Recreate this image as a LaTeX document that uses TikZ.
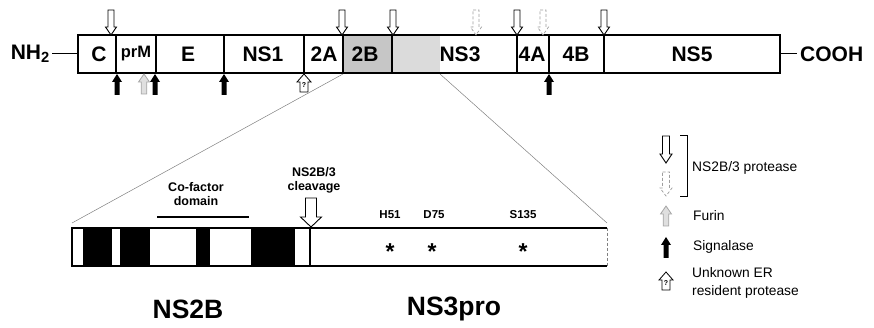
\documentclass[tikz,border=0pt]{standalone}
\usepackage{fontspec}
\setmainfont{Liberation Sans}
\begin{document}
\begin{tikzpicture}[x=1pt,y=-1pt,line join=miter]
\useasboundingbox (0,0) rectangle (874,328);
\tikzset{
  barline/.style={line width=1.1pt},
  lbl/.style={font=\bfseries\fontsize{21}{21}\selectfont, inner sep=0pt, anchor=center},
  endlbl/.style={font=\bfseries\fontsize{21}{21}\selectfont, inner sep=0pt},
  biglbl/.style={font=\bfseries\fontsize{26.5}{26.5}\selectfont, inner sep=0pt},
  smlbl/.style={font=\bfseries\fontsize{12.5}{14}\selectfont, inner sep=0pt, align=center},
  reslbl/.style={font=\bfseries\fontsize{11.5}{12}\selectfont, inner sep=0pt},
  starlbl/.style={font=\bfseries\fontsize{23}{23}\selectfont, inner sep=0pt},
  leglbl/.style={font=\fontsize{13.8}{17.5}\selectfont, inner sep=0pt, anchor=west, align=left},
  zoomline/.style={gray, line width=0.5pt},
  protdown/.pic={\draw[line width=0.9pt, fill=white] (-3,-25) -- (3,-25) -- (3,-8) -- (5.5,-8) -- (0,0) -- (-5.5,-8) -- (-3,-8) -- cycle;},
  protdash/.pic={\draw[line width=0.7pt, densely dashed, draw=gray!75, fill=white] (-3,-25) -- (3,-25) -- (3,-8) -- (5.5,-8) -- (0,0) -- (-5.5,-8) -- (-3,-8) -- cycle;},
  sigup/.pic={\fill[black] (-2.5,21) -- (2.5,21) -- (2.5,8) -- (5,8) -- (0,0) -- (-5,8) -- (-2.5,8) -- cycle;},
  furup/.pic={\draw[line width=0.8pt, draw=gray!70, fill=gray!25] (-2.8,20) -- (2.8,20) -- (2.8,8) -- (5.5,8) -- (0,0) -- (-5.5,8) -- (-2.8,8) -- cycle;},
  unkup/.pic={\draw[line width=0.8pt, fill=white] (-4,18) -- (4,18) -- (4,8) -- (7,8) -- (0,0) -- (-7,8) -- (-4,8) -- cycle;
              \node[font=\bfseries\fontsize{7}{7}\selectfont, inner sep=0pt] at (0,11) {?};},
  legopen/.pic={\draw[line width=0.9pt, fill=white] (-3.5,-27) -- (3.5,-27) -- (3.5,-9) -- (6,-9) -- (0,0) -- (-6,-9) -- (-3.5,-9) -- cycle;},
  legdash/.pic={\draw[line width=0.7pt, densely dashed, draw=gray!75, fill=white] (-3.5,-24) -- (3.5,-24) -- (3.5,-8) -- (6,-8) -- (0,0) -- (-6,-8) -- (-3.5,-8) -- cycle;},
  cleavarr/.pic={\draw[line width=0.9pt, fill=white] (-5.5,-29) -- (5.5,-29) -- (5.5,-10) -- (10.5,-10) -- (0,0) -- (-10.5,-10) -- (-5.5,-10) -- cycle;}
}

% ---------- top polyprotein bar ----------
\fill[gray!45] (343,35) rectangle (392,73);
\fill[gray!28] (392,35) rectangle (440,73);
\draw[barline] (78,35) rectangle (780,73);
\foreach \x in {116,156,224,304,343,392,517,549,604}
  \draw[barline] (\x,35) -- (\x,73);

\node[lbl] (lC)   at (99,54)  {C};
\node[lbl, font=\bfseries\fontsize{16.5}{16.5}\selectfont] (lprM) at (136,54) {prM};
\node[lbl] (lE)   at (188,54) {E};
\node[lbl] (lNS1) at (263,54) {NS1};
\node[lbl] (l2A)  at (324,54) {2A};
\node[lbl] (l2B)  at (365,54) {2B};
\node[lbl] (lNS3) at (460,54) {NS3};
\node[lbl] (l4A)  at (532,54) {4A};
\node[lbl] (l4B)  at (576,54) {4B};
\node[lbl] (lNS5) at (692,54) {NS5};

\node[endlbl, anchor=east] (nh2) at (50,54) {NH\textsubscript{2}};
\coordinate (barL) at (78,54);
\coordinate (barR) at (780,54);
\draw[line width=1pt] (nh2.east) ++(2,0) -- (barL);
\node[endlbl, anchor=west] (cooh) at (800,54) {COOH};
\draw[line width=1pt] (barR) -- ([xshift=-3pt]cooh.west);

% arrows above
\foreach \x in {111,342,393,517,604}
  \pic at (\x,35) {protdown};
\foreach \x in {476,543}
  \pic at (\x,35) {protdash};
% arrows below
\foreach \x in {117,155,224,549}
  \pic at (\x,74) {sigup};
\pic at (144,74) {furup};
\pic at (304,74) {unkup};

% ---------- zoom lines ----------
\coordinate (zL0) at (343,74);
\coordinate (zR0) at (440,74);
\coordinate (zL1) at (72,223);
\coordinate (zR1) at (607,223);
\draw[zoomline] (zL0) -- (zL1);
\draw[zoomline] (zR0) -- (zR1);

% ---------- NS2B-NS3pro box ----------
\foreach \a/\b in {83/112,120/150,196/210,251/295}
  \fill[black] (\a,228) rectangle (\b,266);
\draw[line width=1.2pt] (607,228) -- (72,228) -- (72,266) -- (607,266);
\draw[line width=0.9pt, densely dashed, gray] (607,228) -- (607,266);
\draw[line width=1.1pt] (310,228) -- (310,266);

\draw[line width=2pt] (157,217) -- (249,217);
\node[smlbl] (cof) at (196,194) {Co-factor\\domain};
\node[smlbl] (clv) at (314,180) {NS2B/3\\cleavage};
\pic at (311,227) {cleavarr};

\node[reslbl] (h51)  at (390,215) {H51};
\node[reslbl] (d75)  at (434,215) {D75};
\node[reslbl] (s135) at (523,215) {S135};
\node[starlbl] (st1) at (390,252) {*};
\node[starlbl] (st2) at (432,252) {*};
\node[starlbl] (st3) at (523,252) {*};

\node[biglbl] (ns2b) at (188,309) {NS2B};
\node[biglbl] (ns3p) at (454,309) {NS3pro};

% ---------- legend ----------
\pic at (666,163) {legopen};
\pic at (666,196) {legdash};
\draw[line width=1pt] (680,136) -- (687,136) -- (687,197) -- (680,197);
\node[leglbl] (lgProt) at (692,168) {NS2B/3 protease};
\pic at (666,206) {furup};
\node[leglbl] (lgFur) at (693,216) {Furin};
\pic at (666,237) {sigup};
\node[leglbl] (lgSig) at (693,247) {Signalase};
\pic at (666,272) {unkup};
\node[leglbl] (lgUnk) at (692,283) {Unknown ER\\resident protease};
\end{tikzpicture}
\end{document}
